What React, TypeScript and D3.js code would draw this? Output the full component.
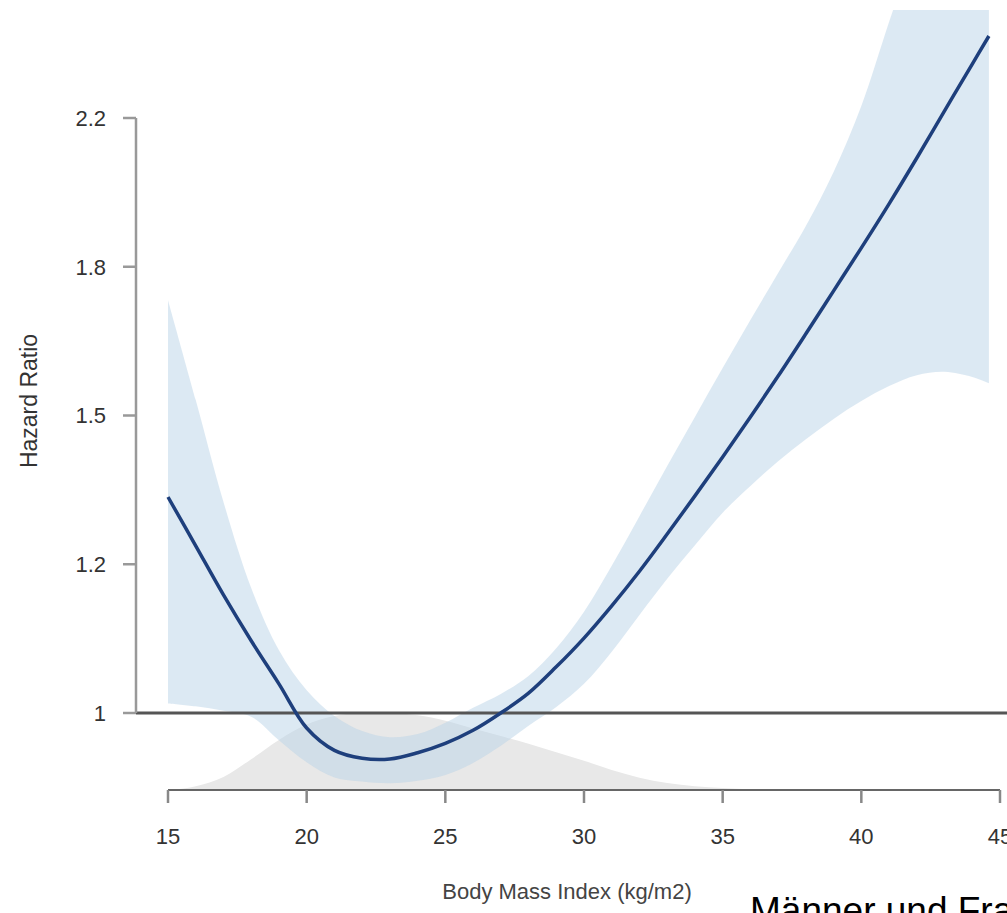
import React from "react";
import * as d3 from "d3";

const width = 1007;
const height = 913;

// BMI grid the curves were read at
const bmi = [15, 16, 17, 18, 19, 20, 21, 22, 23, 24, 25, 26, 27, 28, 29, 30,
  31, 32, 33, 34, 35, 36, 37, 38, 39, 40, 41, 42, 43, 44, 44.6];

// hazard ratio, spline estimate
const hr = [1.337, 1.252, 1.172, 1.102, 1.04, 0.98, 0.951, 0.941, 0.94, 0.948, 0.96,
  0.977, 1.0, 1.027, 1.064, 1.106, 1.155, 1.21, 1.272, 1.339, 1.411, 1.489, 1.573,
  1.665, 1.764, 1.869, 1.983, 2.109, 2.247, 2.393, 2.485];

// 95% CI
const hrUpper = [1.742, 1.523, 1.328, 1.183, 1.088, 1.031, 0.996, 0.976, 0.968, 0.972,
  0.987, 1.007, 1.026, 1.051, 1.091, 1.146, 1.219, 1.303, 1.394, 1.489, 1.59, 1.696,
  1.807, 1.925, 2.07, 2.262, 2.532, 2.827, 3.17, 3.53, 3.75];
const hrLower = [1.013, 1.009, 1.003, 0.995, 0.964, 0.936, 0.917, 0.912, 0.91, 0.913,
  0.92, 0.935, 0.957, 0.983, 1.008, 1.04, 1.086, 1.141, 1.198, 1.253, 1.309, 1.357,
  1.403, 1.445, 1.485, 1.521, 1.552, 1.575, 1.582, 1.571, 1.558];

// BMI distribution (relative density)
const densBmi = [15, 16, 17, 18, 19, 20, 21, 22, 23, 24, 25, 26, 27, 28, 29, 30, 31,
  32, 33, 34, 35, 36, 37];
const dens = [0.0, 0.05, 0.17, 0.4, 0.65, 0.85, 0.96, 1.0, 1.0, 0.97, 0.9, 0.8, 0.7,
  0.6, 0.49, 0.38, 0.26, 0.16, 0.09, 0.05, 0.025, 0.01, 0];

const xTicks = [15, 20, 25, 30, 35, 40, 45];
const yTickLogs = [0, 0.2, 0.4, 0.6, 0.8];
const yTickLabels = ["1", "1.2", "1.5", "1.8", "2.2"];

const font = "'Liberation Sans', Arial, sans-serif";

export default function App() {
  const x = d3.scaleLinear().domain([15, 45]).range([168, 1000]);
  const y = d3.scaleLog().domain([1, Math.exp(0.8)]).range([713, 118]);
  const yDen = d3.scaleLinear().domain([0, 1]).range([790, 713]);

  const rows = bmi.map((b, i) => ({ b, hr: hr[i], lo: hrLower[i], hi: hrUpper[i] }));

  const band = d3.area<any>()
    .x(d => x(d.b))
    .y0(d => y(d.lo))
    .y1(d => y(d.hi))
    .curve(d3.curveCatmullRom);

  const line = d3.line<any>()
    .x(d => x(d.b))
    .y(d => y(d.hr))
    .curve(d3.curveCatmullRom);

  const densArea = d3.area<number>()
    .x((d, i) => x(densBmi[i]))
    .y0(yDen(0))
    .y1(d => yDen(d))
    .curve(d3.curveMonotoneX);

  return (
    <svg width={width} height={height} style={{ position: "absolute", left: 0, top: 0 }}>
      <defs>
        <clipPath id="plot">
          <rect x={0} y={10} width={width} height={height} />
        </clipPath>
      </defs>
      <rect width={width} height={height} fill="#fff" />

      <path d={densArea(dens) || ""} fill="#e8e8e8" />
      <path d={band(rows) || ""} fill="#b9d3e8" fillOpacity={0.5} clipPath="url(#plot)" />

      {/* reference line HR = 1 */}
      <line x1={136} x2={width} y1={y(1)} y2={y(1)} stroke="#555" strokeWidth={3} />

      <path d={line(rows) || ""} fill="none" stroke="#1e3f7c" strokeWidth={3.5} />

      {/* y axis */}
      <line x1={136} x2={136} y1={y(Math.exp(0.8))} y2={y(1)} stroke="#999" strokeWidth={2.5} />
      {yTickLogs.map((t, i) => (
        <g key={t}>
          <line x1={123} x2={136} y1={y(Math.exp(t))} y2={y(Math.exp(t))} stroke="#999" strokeWidth={2.5} />
          <text x={106} y={y(Math.exp(t))} dy="0.36em" textAnchor="end" fontFamily={font}
            fontSize={22} fill="#333">{yTickLabels[i]}</text>
        </g>
      ))}
      <text transform={`translate(37, 401) rotate(-90)`} textAnchor="middle" fontFamily={font}
        fontSize={23} fill="#333">Hazard Ratio</text>

      {/* x axis */}
      <line x1={x(15)} x2={x(45)} y1={790} y2={790} stroke="#666" strokeWidth={2} />
      {xTicks.map(t => (
        <g key={t}>
          <line x1={x(t)} x2={x(t)} y1={790} y2={803} stroke="#888" strokeWidth={2.5} />
          <text x={x(t)} y={844} textAnchor="middle" fontFamily={font} fontSize={22}
            fill="#333">{t}</text>
        </g>
      ))}
      <text x={567} y={899} textAnchor="middle" fontFamily={font} fontSize={22} fill="#444">
        Body Mass Index (kg/m2)
      </text>
      <text x={750} y={923} fontFamily={font} fontSize={37} fill="#000">Männer und Frauen</text>
    </svg>
  );
}
